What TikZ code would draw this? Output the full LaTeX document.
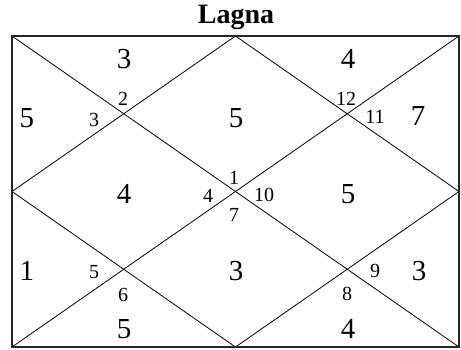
\documentclass[tikz,border=0pt]{standalone}
\usepackage{fontspec}
\setmainfont{Liberation Serif}
\begin{document}
\begin{tikzpicture}[x=1pt,y=-1pt,
  big/.style={font=\fontsize{29}{29}\selectfont, inner sep=0pt},
  small/.style={font=\fontsize{20}{20}\selectfont, inner sep=0pt},
  ttl/.style={font=\fontsize{28}{28}\selectfont\bfseries, inner sep=0pt},
  frame/.style={draw=black!85, line width=1.6pt},
  edge/.style={draw=black, line width=0.8pt}]
\useasboundingbox (0,0) rectangle (461,349);
\coordinate (tl) at (12,36);
\coordinate (tr) at (459,36);
\coordinate (bl) at (12,347);
\coordinate (br) at (459,347);
\coordinate (tm) at (235.5,36);
\coordinate (bm) at (235.5,347);
\coordinate (lm) at (12,191.5);
\coordinate (rm) at (459,191.5);
\draw[edge] (tl) -- (br);
\draw[edge] (tr) -- (bl);
\draw[edge] (tm) -- (rm) -- (bm) -- (lm) -- cycle;
\draw[frame] (tl) rectangle (br);
\node[ttl] (title) at (236,17) {Lagna};
\node[big] (h1) at (124,59) {3};
\node[big] (h2) at (348,59) {4};
\node[big] (h3) at (27,118) {5};
\node[small] (s3) at (94,120) {3};
\node[small] (s2) at (123,99) {2};
\node[big] (h4) at (236,118) {5};
\node[small] (s12) at (346,99) {12};
\node[small] (s11) at (375,117) {11};
\node[big] (h5) at (418,116) {7};
\node[big] (h6) at (124,194) {4};
\node[big] (h7) at (348,194) {5};
\node[small] (s1) at (234,178) {1};
\node[small] (s4) at (208,196) {4};
\node[small] (s10) at (264,195) {10};
\node[small] (s7) at (234,215) {7};
\node[big] (h8) at (27,271) {1};
\node[small] (s5) at (94,272) {5};
\node[small] (s6) at (123,295) {6};
\node[big] (h9) at (236,271) {3};
\node[small] (s9) at (375,271) {9};
\node[small] (s8) at (347,294) {8};
\node[big] (h10) at (419,271) {3};
\node[big] (h11) at (124,329) {5};
\node[big] (h12) at (348,329) {4};
\end{tikzpicture}
\end{document}
